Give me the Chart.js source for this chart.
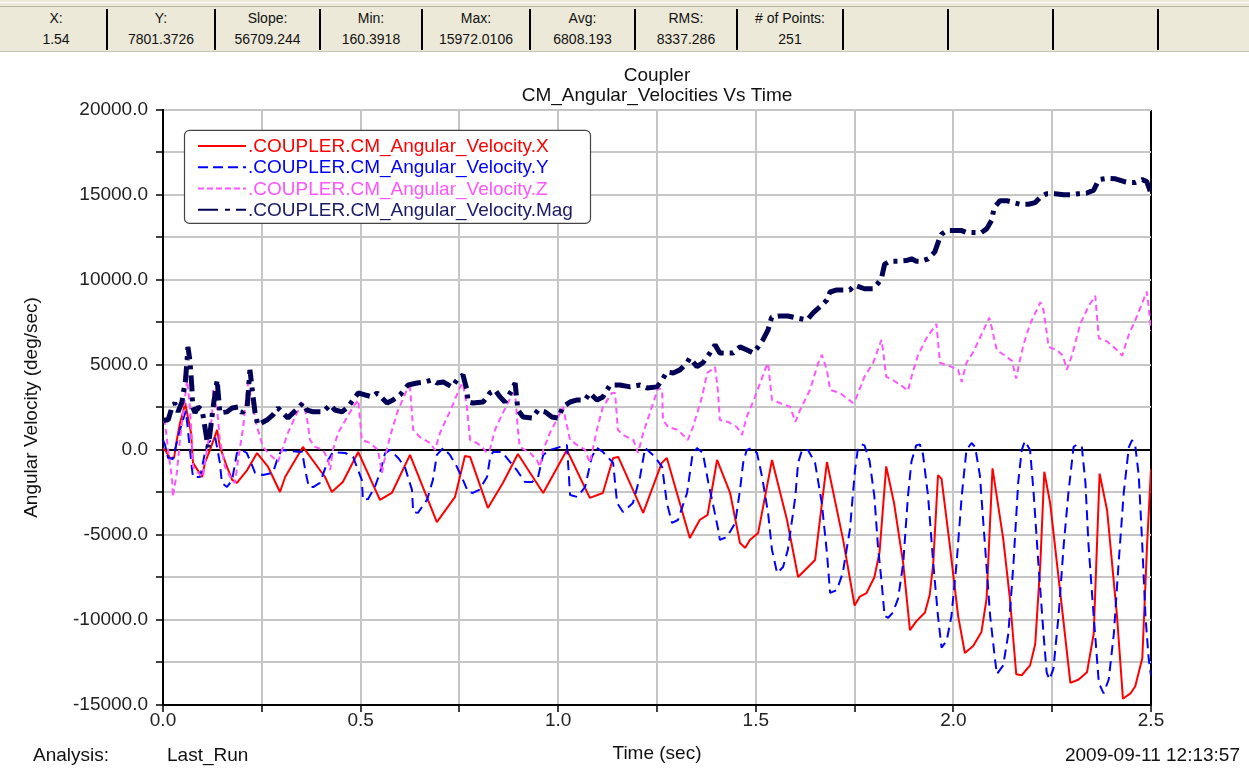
<!DOCTYPE html>
<html>
<head>
<meta charset="utf-8">
<title>Coupler - CM_Angular_Velocities Vs Time</title>
<script src="https://cdn.jsdelivr.net/npm/chart.js@4.4.1/dist/chart.umd.min.js"></script>
<style>
  body { margin: 0; width: 1249px; height: 770px; overflow: hidden; background: #fff;
         font-family: "Liberation Sans", Arial, sans-serif; }
  #wrap { position: absolute; left: 0; top: 0; width: 1249px; height: 770px; }
  #bar { position: absolute; left: 0; top: 0; width: 1249px; height: 51px; background: #ece9d8;
         border-bottom: 1px solid #c8c4b4; z-index: 2; }
  #bar .strip { position: absolute; left: 0; top: 2px; width: 1249px; height: 3px;
                border-top: 1px solid #fff; border-bottom: 1px solid #b9b5a5; }
  .cell { position: absolute; top: 8px; height: 42px; text-align: center; color: #111;
          font-family: "Liberation Sans Narrow", "Arial Narrow", sans-serif; font-size: 14px; }
  .cell .lab { position: absolute; left: 0; right: 0; top: 2px; }
  .cell .val { position: absolute; left: 0; right: 0; top: 23px; }
  .sep { position: absolute; top: 9px; width: 2px; height: 41px; background: #000; }
  .foot { position: absolute; top: 744px; font-size: 19px; line-height: 22px; color: #111; white-space: pre; }
</style>
</head>
<body>
<div id="wrap"><canvas id="c" width="1249" height="770"></canvas></div>
<div id="bar"><div class="strip"></div></div>
<div class="foot" style="left:33px">Analysis:</div>
<div class="foot" style="left:167px">Last_Run</div>
<div class="foot" style="right:9px">2009-09-11 12:13:57</div>
<script>
// channel samples: time (sec) and angular velocity (deg/sec)
const xTime = [0, 0.005, 0.018, 0.028, 0.035, 0.043, 0.051, 0.056, 0.063, 0.071, 0.076, 0.099, 0.106, 0.119, 0.137, 0.144, 0.162, 0.175, 0.187, 0.213, 0.238, 0.266, 0.296, 0.309, 0.354, 0.41, 0.427, 0.455, 0.494, 0.549, 0.579, 0.625, 0.693, 0.739, 0.764, 0.777, 0.822, 0.86, 0.898, 0.962, 1.022, 1.08, 1.113, 1.139, 1.152, 1.215, 1.262, 1.275, 1.333, 1.358, 1.378, 1.402, 1.435, 1.46, 1.473, 1.485, 1.506, 1.541, 1.579, 1.607, 1.65, 1.68, 1.721, 1.75, 1.763, 1.78, 1.8, 1.813, 1.83, 1.85, 1.873, 1.89, 1.906, 1.928, 1.94, 1.949, 1.961, 1.97, 1.991, 2.012, 2.029, 2.05, 2.071, 2.084, 2.099, 2.126, 2.143, 2.159, 2.173, 2.194, 2.207, 2.22, 2.23, 2.245, 2.27, 2.296, 2.317, 2.338, 2.355, 2.37, 2.389, 2.414, 2.429, 2.448, 2.46, 2.478, 2.49, 2.5];
const xVel = [100, 0, -470, -470, 590, 1590, 2240, 2760, 1940, 1000, -760, -1590, -760, 0, 1180, 180, -1000, -1760, -1940, -1180, -180, -1000, -2470, -1590, 180, -1590, -2470, -1880, -120, -2940, -2530, -290, -4240, -2760, -350, -410, -3410, -1940, -240, -2530, 0, -2820, -2530, -470, -410, -3700, -760, -470, -5180, -4120, -3820, -590, -2530, -5470, -5760, -5290, -4880, -590, -4120, -7470, -6470, -710, -5290, -9150, -8630, -8420, -7490, -6040, -970, -3150, -6670, -10600, -10080, -9560, -8530, -6670, -1490, -1700, -5630, -9770, -11940, -11530, -10700, -8740, -1080, -5220, -8740, -13190, -13250, -12670, -11430, -6670, -1280, -3150, -8320, -13700, -13500, -13080, -10810, -1390, -3560, -9770, -14630, -14320, -13910, -12250, -5630, -1100];

const yTime = [0, 0.005, 0.013, 0.025, 0.038, 0.048, 0.058, 0.073, 0.076, 0.094, 0.106, 0.114, 0.132, 0.144, 0.149, 0.162, 0.175, 0.187, 0.2, 0.212, 0.225, 0.233, 0.253, 0.278, 0.29, 0.3, 0.34, 0.352, 0.36, 0.369, 0.38, 0.397, 0.418, 0.43, 0.461, 0.481, 0.503, 0.506, 0.519, 0.536, 0.549, 0.562, 0.575, 0.595, 0.612, 0.63, 0.633, 0.645, 0.668, 0.683, 0.693, 0.709, 0.726, 0.744, 0.759, 0.772, 0.784, 0.8, 0.82, 0.828, 0.835, 0.858, 0.878, 0.895, 0.916, 0.934, 0.949, 0.962, 0.979, 1.022, 1.025, 1.03, 1.048, 1.068, 1.085, 1.098, 1.113, 1.139, 1.149, 1.164, 1.189, 1.207, 1.22, 1.245, 1.263, 1.275, 1.288, 1.303, 1.326, 1.339, 1.351, 1.366, 1.38, 1.393, 1.405, 1.409, 1.427, 1.448, 1.46, 1.468, 1.477, 1.49, 1.503, 1.516, 1.531, 1.541, 1.554, 1.569, 1.581, 1.6, 1.607, 1.617, 1.632, 1.65, 1.667, 1.68, 1.688, 1.705, 1.72, 1.738, 1.751, 1.758, 1.767, 1.775, 1.788, 1.8, 1.809, 1.818, 1.826, 1.835, 1.847, 1.86, 1.873, 1.885, 1.894, 1.906, 1.915, 1.923, 1.936, 1.949, 1.961, 1.97, 1.983, 1.995, 2.008, 2.021, 2.033, 2.046, 2.055, 2.067, 2.08, 2.093, 2.105, 2.11, 2.126, 2.139, 2.152, 2.164, 2.173, 2.181, 2.194, 2.203, 2.215, 2.228, 2.236, 2.243, 2.253, 2.266, 2.279, 2.291, 2.304, 2.313, 2.325, 2.334, 2.342, 2.355, 2.368, 2.38, 2.393, 2.406, 2.418, 2.431, 2.444, 2.452, 2.46, 2.469, 2.478, 2.486, 2.494, 2.5];
const yVel = [600, 300, -470, -530, 760, 1590, 2300, -1060, -1590, -1590, -180, 410, 760, -760, -1940, -2180, -1760, -180, 0, -180, -880, -1350, -1470, -1350, -500, 0, -100, -100, -1200, -2180, -2180, -1940, -590, -120, -180, -410, -1760, -2940, -2880, -2180, -1350, -180, 0, -470, -1000, -2350, -3650, -3700, -2940, -1760, -290, 120, -290, -1000, -1760, -2470, -2530, -2350, -1590, -410, -120, -120, -700, -1180, -1880, -1880, -1590, -290, 0, 290, -760, -2650, -2760, -2180, -410, 120, -120, -760, -3120, -3650, -3120, -1590, 120, -410, -1000, -3120, -4290, -4120, -2530, -410, 120, -180, -1940, -3350, -4700, -5290, -5120, -4290, -2350, -760, 0, 120, -180, -1590, -3700, -5880, -7240, -6880, -5880, -2760, -760, 0, 0, -760, -3120, -6060, -8410, -8240, -7240, -4700, -1180, 0, 330, 270, -660, -2730, -5630, -7700, -9770, -9870, -9560, -8740, -6670, -2730, -660, 270, 330, -250, -2730, -6670, -9770, -11630, -11220, -9770, -6670, -2730, 0, 410, 170, -1490, -5630, -9770, -12250, -13190, -12670, -10810, -6670, -1900, 0, 520, 0, -2530, -6670, -10810, -13080, -13500, -12880, -9770, -5630, -2530, 170, 330, 170, -1900, -5630, -9770, -13700, -14320, -13500, -10810, -6670, -2530, 170, 580, 270, -1490, -5630, -9770, -12250, -13290];

const zTime = [0, 0.005, 0.013, 0.023, 0.025, 0.035, 0.043, 0.051, 0.061, 0.068, 0.073, 0.076, 0.089, 0.101, 0.111, 0.124, 0.127, 0.137, 0.144, 0.157, 0.174, 0.182, 0.19, 0.203, 0.215, 0.228, 0.238, 0.253, 0.271, 0.291, 0.304, 0.316, 0.339, 0.354, 0.364, 0.372, 0.385, 0.405, 0.418, 0.423, 0.43, 0.443, 0.466, 0.481, 0.494, 0.503, 0.524, 0.544, 0.554, 0.562, 0.574, 0.595, 0.617, 0.625, 0.633, 0.65, 0.676, 0.688, 0.701, 0.731, 0.752, 0.759, 0.769, 0.777, 0.794, 0.807, 0.82, 0.827, 0.84, 0.86, 0.883, 0.891, 0.898, 0.903, 0.929, 0.946, 0.954, 0.962, 0.979, 1.0, 1.012, 1.03, 1.048, 1.068, 1.08, 1.098, 1.113, 1.136, 1.144, 1.151, 1.164, 1.19, 1.202, 1.215, 1.237, 1.253, 1.263, 1.265, 1.278, 1.303, 1.328, 1.341, 1.364, 1.377, 1.397, 1.404, 1.409, 1.43, 1.452, 1.465, 1.477, 1.498, 1.528, 1.531, 1.541, 1.561, 1.587, 1.6, 1.612, 1.637, 1.658, 1.667, 1.68, 1.688, 1.713, 1.746, 1.754, 1.775, 1.797, 1.818, 1.822, 1.83, 1.847, 1.868, 1.885, 1.894, 1.91, 1.932, 1.957, 1.966, 1.991, 2.012, 2.021, 2.033, 2.05, 2.071, 2.091, 2.097, 2.11, 2.131, 2.148, 2.159, 2.165, 2.177, 2.194, 2.22, 2.228, 2.241, 2.262, 2.277, 2.287, 2.3, 2.321, 2.342, 2.359, 2.368, 2.389, 2.41, 2.427, 2.444, 2.46, 2.478, 2.489, 2.494, 2.5];
const zVel = [1800, 1590, 0, -1760, -2760, -1350, 590, 2180, 4120, 2530, 590, -1000, -1350, -1590, 0, 1940, 3530, 2350, 590, -1000, -1760, -1940, -590, 1350, 3940, 2530, 1350, 180, -290, -700, 180, 1000, 2180, 2760, 1940, 590, 180, 0, -590, -1180, 0, 1000, 1940, 2530, 2940, 590, 410, 0, -1350, -410, 760, 2350, 3530, 3710, 1180, 760, 410, 0, 1000, 2530, 3710, 3940, 2530, 590, 410, 180, -180, 0, 1180, 2180, 3240, 3350, 1180, 180, -180, -590, -1000, 0, 1000, 1940, 2530, 590, 290, 0, -760, 1180, 2530, 3350, 3350, 1180, 880, 590, -180, 1000, 2530, 3650, 3530, 1760, 1350, 1180, 590, 1350, 3120, 4530, 4880, 3530, 1760, 1650, 1350, 880, 1940, 3120, 5000, 5100, 2940, 2760, 2530, 1650, 2350, 3530, 5120, 5590, 4710, 3530, 3350, 2760, 3060, 4310, 5130, 6480, 5860, 4310, 4100, 3790, 3480, 4310, 5550, 6580, 7410, 5130, 4930, 4720, 4000, 5130, 5750, 6790, 7780, 7200, 5860, 5550, 5240, 4200, 4930, 6170, 7410, 8690, 8240, 6070, 5860, 5550, 4720, 5550, 7410, 8450, 9070, 6580, 6380, 5960, 5550, 6790, 7620, 8650, 9320, 8450, 7000];

const magTime = [0, 0.005, 0.013, 0.023, 0.03, 0.038, 0.048, 0.051, 0.056, 0.061, 0.063, 0.068, 0.073, 0.075, 0.081, 0.089, 0.099, 0.106, 0.114, 0.119, 0.127, 0.137, 0.139, 0.144, 0.162, 0.175, 0.19, 0.2, 0.213, 0.22, 0.228, 0.233, 0.24, 0.263, 0.278, 0.291, 0.316, 0.329, 0.342, 0.354, 0.364, 0.38, 0.405, 0.423, 0.435, 0.453, 0.468, 0.481, 0.494, 0.511, 0.529, 0.542, 0.567, 0.582, 0.6, 0.62, 0.643, 0.663, 0.681, 0.693, 0.709, 0.731, 0.744, 0.759, 0.769, 0.772, 0.784, 0.81, 0.827, 0.84, 0.853, 0.865, 0.883, 0.891, 0.898, 0.911, 0.934, 0.949, 0.967, 0.984, 1.0, 1.012, 1.03, 1.048, 1.068, 1.08, 1.098, 1.113, 1.131, 1.156, 1.182, 1.207, 1.225, 1.25, 1.263, 1.275, 1.291, 1.308, 1.326, 1.333, 1.351, 1.366, 1.384, 1.397, 1.409, 1.442, 1.46, 1.478, 1.493, 1.506, 1.518, 1.531, 1.54, 1.561, 1.581, 1.604, 1.63, 1.645, 1.662, 1.68, 1.688, 1.705, 1.738, 1.75, 1.775, 1.797, 1.809, 1.818, 1.826, 1.839, 1.86, 1.881, 1.894, 1.906, 1.919, 1.936, 1.953, 1.964, 1.97, 1.983, 2.004, 2.021, 2.033, 2.071, 2.084, 2.097, 2.103, 2.118, 2.135, 2.152, 2.169, 2.19, 2.207, 2.22, 2.236, 2.257, 2.279, 2.296, 2.317, 2.338, 2.355, 2.368, 2.389, 2.41, 2.431, 2.444, 2.46, 2.478, 2.489, 2.494, 2.5];
const magVel = [1700, 1760, 1760, 2530, 2760, 2240, 2820, 3350, 3880, 5290, 6060, 5290, 3710, 2530, 2180, 2530, 2350, 1350, 160.3918, 1000, 2530, 4120, 3530, 2180, 2240, 2470, 2530, 2180, 2530, 4710, 3120, 2180, 1470, 1760, 2060, 2470, 1880, 2180, 2470, 2760, 2350, 2240, 2240, 2650, 2350, 2240, 2530, 2940, 3350, 3240, 3120, 3350, 2760, 2940, 3240, 3820, 3940, 4000, 4120, 3940, 4000, 3710, 4120, 4410, 3530, 2820, 2760, 2820, 3350, 3530, 3120, 2820, 3530, 3940, 2350, 1940, 1880, 2350, 2240, 1940, 1880, 2530, 2820, 2940, 2940, 3350, 2940, 3120, 3820, 3820, 3710, 3820, 3650, 3710, 4120, 4590, 4530, 4710, 5120, 5410, 4900, 5120, 5700, 6180, 5700, 5700, 6060, 5880, 5700, 6060, 6470, 7060, 7801.3726, 7880, 7880, 7760, 7650, 8060, 8410, 8820, 9290, 9410, 9410, 9690, 9480, 9480, 9790, 10100, 10930, 11100, 11100, 11140, 11240, 11100, 11100, 11240, 11650, 12380, 12690, 12900, 12900, 12900, 12790, 12790, 13000, 13520, 14240, 14660, 14660, 14550, 14450, 14450, 14550, 14860, 15070, 15070, 15010, 15010, 15070, 15110, 15280, 15900, 15972.0106, 15950, 15790, 15730, 15730, 15900, 15790, 15480, 15070];

const seriesNames = ['.COUPLER.CM_Angular_Velocity.X', '.COUPLER.CM_Angular_Velocity.Y',
                     '.COUPLER.CM_Angular_Velocity.Z', '.COUPLER.CM_Angular_Velocity.Mag'];
const chartTitle = ['Coupler', 'CM_Angular_Velocities Vs Time'];
const statLabels = ['X:', 'Y:', 'Slope:', 'Min:', 'Max:', 'Avg:', 'RMS:', '# of Points:'];
const statValues = ['1.54', '7801.3726', '56709.244', '160.3918', '15972.0106', '6808.193', '8337.286', '251'];

// status bar cells
const barEdges = [5, 107, 215, 320, 422, 530, 635, 737, 843, 948, 1053, 1158, 1245];
const bar = document.getElementById('bar');
for (let i = 0; i < barEdges.length - 1; i++) {
  const cell = document.createElement('div');
  cell.className = 'cell';
  cell.style.left = barEdges[i] + 'px';
  cell.style.width = (barEdges[i + 1] - barEdges[i]) + 'px';
  if (i < statLabels.length) {
    cell.innerHTML = '<div class="lab"></div><div class="val"></div>';
    cell.querySelector('.lab').textContent = statLabels[i];
    cell.querySelector('.val').textContent = statValues[i];
  }
  bar.appendChild(cell);
  if (i > 0) {
    const s = document.createElement('div');
    s.className = 'sep';
    s.style.left = (barEdges[i] - 1) + 'px';
    bar.appendChild(s);
  }
}

function pts(t, v) { return t.map((x, i) => ({ x: x, y: v[i] })); }

const FONT = '"Liberation Sans", Arial, sans-serif';
Chart.defaults.font.family = FONT;
Chart.defaults.color = '#222';

// boxed legend inside the plot, top-left
const legendBox = {
  id: 'legendBox',
  afterDatasetsDraw(chart) {
    const { ctx, chartArea } = chart;
    const x0 = chartArea.left + 21, y0 = chartArea.top + 20, w = 406, h = 93;
    ctx.save();
    ctx.setLineDash([]);
    ctx.fillStyle = '#fff';
    ctx.strokeStyle = '#444';
    ctx.lineWidth = 1.2;
    ctx.beginPath();
    ctx.roundRect(x0 + 0.5, y0 + 0.5, w, h, 5);
    ctx.fill();
    ctx.stroke();
    ctx.font = '19px ' + FONT;
    ctx.textBaseline = 'middle';
    chart.data.datasets.forEach((ds, i) => {
      const y = y0 + 16 + i * 21.3;
      ctx.strokeStyle = ds.borderColor;
      ctx.lineWidth = 2;
      ctx.setLineDash(ds.legendDash);
      ctx.beginPath();
      ctx.moveTo(x0 + 14, y);
      ctx.lineTo(x0 + 62, y);
      ctx.stroke();
      ctx.fillStyle = ds.textColor;
      ctx.fillText(ds.label, x0 + 64, y + 1);
    });
    ctx.restore();
  }
};

const gridGray = '#c6c6c6';

new Chart(document.getElementById('c'), {
  type: 'line',
  data: {
    datasets: [
      { label: seriesNames[0], data: pts(xTime, xVel), borderColor: '#ff0000', textColor: '#ff0000',
        borderWidth: 2, borderDash: [], legendDash: [], order: 3 },
      { label: seriesNames[1], data: pts(yTime, yVel), borderColor: '#0000ff', textColor: '#0000ff',
        borderWidth: 2, borderDash: [10, 6], legendDash: [10, 5], order: 2 },
      { label: seriesNames[2], data: pts(zTime, zVel), borderColor: '#ff55ff', textColor: '#ff55ff',
        borderWidth: 2, borderDash: [6, 4], legendDash: [6, 3], order: 1 },
      { label: seriesNames[3], data: pts(magTime, magVel), borderColor: '#000055', textColor: '#1a1a66',
        borderWidth: 5, borderDash: [16, 6, 4, 6], legendDash: [20, 7, 5, 6], order: 0 }
    ]
  },
  options: {
    responsive: false,
    animation: false,
    devicePixelRatio: 1,
    parsing: false,
    elements: {
      point: { radius: 0 },
      line: { tension: 0, fill: false, borderCapStyle: 'butt', borderJoinStyle: 'bevel' }
    },
    layout: { padding: { left: 0, top: 66, right: 98, bottom: 0 } },
    plugins: {
      legend: { display: false },
      tooltip: { enabled: false },
      title: {
        display: true, text: chartTitle, fullSize: false, color: '#111',
        font: { size: 19, weight: 'normal', lineHeight: 1.05 },
        padding: { top: 0, bottom: 4 }
      }
    },
    scales: {
      x: {
        type: 'linear', min: 0, max: 2.5,
        afterFit(s) { s.height = 65; },
        ticks: {
          stepSize: 0.25, padding: -1, color: '#222',
          font: { size: 19, lineHeight: 1 },
          maxRotation: 0, autoSkip: false,
          callback: v => (Math.round(v * 4) % 2 === 0 ? v.toFixed(1) : '')
        },
        grid: {
          color: c => (c.tick && Math.abs(c.tick.value - 2.5) < 1e-6 ? '#000' : gridGray),
          lineWidth: 2, tickLength: 7, tickColor: '#000', tickWidth: 1.5
        },
        border: { display: true, color: '#000', width: 2 },
        title: { display: true, text: 'Time (sec)', color: '#111',
                 font: { size: 19, lineHeight: 1 }, padding: { top: 0, bottom: 6.5 } }
      },
      y: {
        type: 'linear', min: -15000, max: 20000,
        afterFit(s) { s.width = 163; },
        ticks: {
          stepSize: 2500, padding: 8, color: '#222',
          font: { size: 19, lineHeight: 1 },
          callback: v => (v % 5000 === 0 ? v.toFixed(1) : '')
        },
        grid: {
          color: c => (c.tick && c.tick.value === 0 ? '#000' : gridGray),
          lineWidth: 2, tickLength: 7, tickColor: '#000', tickWidth: 1.5
        },
        border: { display: true, color: '#000', width: 2 },
        title: { display: true, text: 'Angular Velocity (deg/sec)', color: '#111',
                 font: { size: 19, lineHeight: 1 }, padding: { top: 22.5, bottom: 0 } }
      }
    }
  },
  plugins: [legendBox]
});
</script>
</body>
</html>
